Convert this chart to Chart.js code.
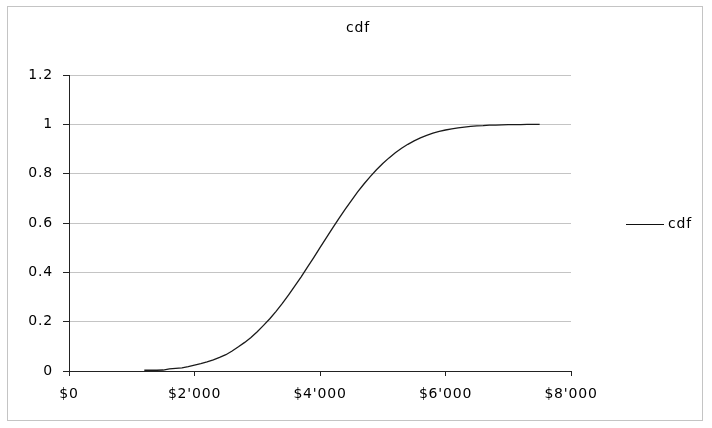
<!DOCTYPE html>
<html>
<head>
<meta charset="utf-8">
<script src="https://cdn.jsdelivr.net/npm/chart.js@4/dist/chart.umd.min.js"></script>
<style>
  html, body { margin: 0; padding: 0; background: #fff; }
  #wrap { width: 712px; height: 428px; position: relative; }
</style>
</head>
<body>
<div id="wrap"><canvas id="c" width="712" height="428"></canvas></div>
<script>
const chartTitle = "cdf";
const seriesName = "cdf";
const xValues = [1200,1300,1400,1500,1600,1700,1800,1900,2000,2100,2200,2300,2400,2500,2600,2700,2800,2900,3000,3100,3200,3300,3400,3500,3600,3700,3800,3900,4000,4100,4200,4300,4400,4500,4600,4700,4800,4900,5000,5100,5200,5300,5400,5500,5600,5700,5800,5900,6000,6100,6200,6300,6400,6500,6600,6700,6800,6900,7000,7100,7200,7300,7400,7500];
const cdfValues = [0.003,0.003,0.003,0.004,0.009,0.011,0.013,0.018,0.024,0.030,0.037,0.045,0.055,0.066,0.081,0.098,0.116,0.136,0.159,0.185,0.212,0.242,0.274,0.309,0.345,0.382,0.421,0.460,0.500,0.540,0.579,0.618,0.655,0.691,0.726,0.758,0.788,0.816,0.841,0.864,0.885,0.903,0.919,0.933,0.945,0.955,0.964,0.971,0.977,0.982,0.986,0.989,0.992,0.994,0.995,0.997,0.997,0.998,0.999,0.999,0.999,1.000,1.000,1.000];
const xTicks = [0, 2000, 4000, 6000, 8000];
const yTicks = [0, 0.2, 0.4, 0.6, 0.8, 1, 1.2];

const FONT = "'DejaVu Sans', 'Liberation Sans', Arial, sans-serif";
const SPACING = '0.8px';

const points = xValues.map((x, i) => ({ x: x, y: cdfValues[i] }));

function fmtMoney(v) {
  const s = String(Math.round(v));
  return '$' + s.replace(/\B(?=(\d{3})+(?!\d))/g, "'");
}

const decorPlugin = {
  id: 'decor',
  beforeLayout(chart) { chart.ctx.letterSpacing = SPACING; },
  beforeDraw(chart) {
    const ctx = chart.ctx;
    ctx.save();
    ctx.fillStyle = '#fff';
    ctx.fillRect(0, 0, chart.width, chart.height);
    ctx.strokeStyle = '#c4c4c4';
    ctx.lineWidth = 1;
    ctx.strokeRect(7.5, 6.5, 695, 414);
    ctx.restore();
    ctx.letterSpacing = SPACING;
  },
  afterDraw(chart) {
    const ctx = chart.ctx;
    ctx.save();
    ctx.letterSpacing = SPACING;
    ctx.fillStyle = '#000';
    ctx.font = '14px ' + FONT;
    ctx.textAlign = 'center';
    ctx.textBaseline = 'middle';
    ctx.fillText(chartTitle, 358, 28);
    // legend
    ctx.strokeStyle = '#111';
    ctx.lineWidth = 1.2;
    ctx.beginPath();
    ctx.moveTo(626, 224.5);
    ctx.lineTo(664, 224.5);
    ctx.stroke();
    ctx.textAlign = 'left';
    ctx.fillText(seriesName, 668, 224);
    ctx.restore();
  }
};

new Chart(document.getElementById('c'), {
  type: 'line',
  data: {
    datasets: [{
      label: seriesName,
      data: points,
      borderColor: '#1a1a1a',
      borderWidth: 1.3,
      pointRadius: 0,
      tension: 0,
      fill: false
    }]
  },
  options: {
    responsive: false,
    animation: false,
    devicePixelRatio: 1,
    layout: { padding: { left: 0, right: 141, top: 75, bottom: 0 } },
    plugins: {
      legend: { display: false },
      title: { display: false },
      tooltip: { enabled: false }
    },
    scales: {
      x: {
        type: 'linear',
        min: 0,
        max: 8000,
        afterFit(scale) { scale.height = 57; },
        afterBuildTicks(scale) { scale.ticks = xTicks.map(v => ({ value: v })); },
        ticks: {
          callback: v => fmtMoney(v),
          color: '#000',
          font: { family: FONT, size: 14 },
          padding: 10,
          maxRotation: 0,
          autoSkip: false
        },
        grid: {
          drawOnChartArea: false,
          drawTicks: true,
          tickLength: 5,
          tickColor: '#222'
        },
        border: { display: true, color: '#222', width: 1 }
      },
      y: {
        type: 'linear',
        min: 0,
        max: 1.2,
        afterFit(scale) { scale.width = 69; },
        afterBuildTicks(scale) { scale.ticks = yTicks.map(v => ({ value: v })); },
        ticks: {
          callback: v => String(Number(v.toFixed(1))),
          color: '#000',
          font: { family: FONT, size: 14 },
          padding: 10,
          autoSkip: false
        },
        grid: {
          color: '#c4c4c4',
          lineWidth: 1,
          drawTicks: true,
          tickLength: 6,
          tickColor: '#222'
        },
        border: { display: true, color: '#222', width: 1 }
      }
    }
  },
  plugins: [decorPlugin]
});
</script>
</body>
</html>
